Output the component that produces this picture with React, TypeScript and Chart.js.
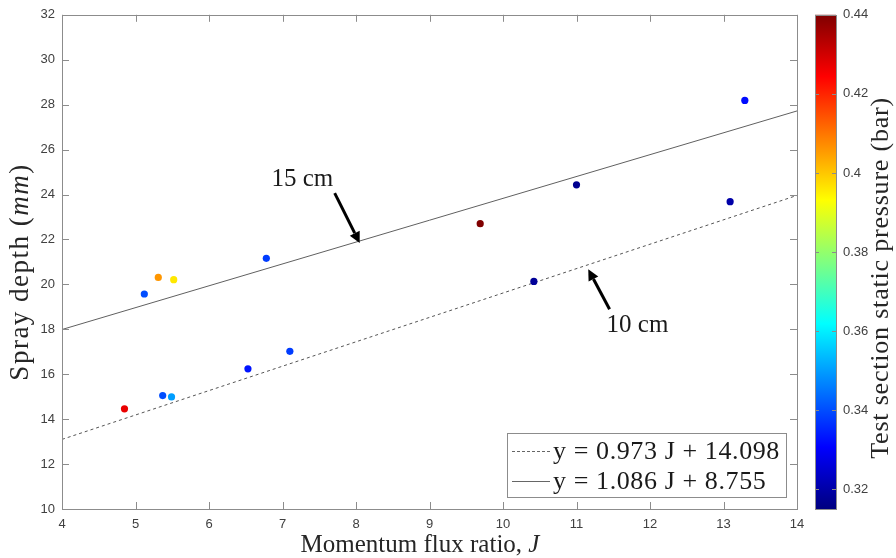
import React, { useEffect, useRef } from "react";
import { Chart, registerables } from "chart.js";
Chart.register(...registerables);

// ---------- data ----------
const momentumJ = [4.85, 5.37, 5.49, 6.53, 7.1, 5.12, 5.31, 5.52, 6.78, 9.69, 10.42, 11.0, 13.09, 13.29];
const sprayDepth = [14.46, 15.05, 14.99, 16.24, 17.02, 19.57, 20.31, 20.21, 21.16, 22.7, 20.13, 24.43, 23.68, 28.19];
const staticPressure = [0.427, 0.34, 0.35, 0.333, 0.338, 0.34, 0.406, 0.396, 0.338, 0.44, 0.318, 0.317, 0.32, 0.332];

const fitSlopes = [0.973, 1.086];
const fitIntercepts = [14.098, 8.755];
const fitLabels = ["15 cm", "10 cm"];

const xTicks = [4, 5, 6, 7, 8, 9, 10, 11, 12, 13, 14];
const yTicks = [10, 12, 14, 16, 18, 20, 22, 24, 26, 28, 30, 32];
const cbTickValues = [0.32, 0.34, 0.36, 0.38, 0.4, 0.42, 0.44];
const cbTickLabels = ["0.32", "0.34", "0.36", "0.38", "0.4", "0.42", "0.44"];
const cbMin = 0.315;
const cbMax = 0.44;

const X_MIN = 4, X_MAX = 14, Y_MIN = 10, Y_MAX = 32;

const SANS = "'Liberation Sans', Arial, sans-serif";
const SERIF = "'Liberation Serif', 'Times New Roman', serif";
const AXIS_GRAY = "#8c8c8c";
const TICK_TEXT = "#404040";
const TITLE_TEXT = "#262626";

function clamp01(v: number) { return Math.max(0, Math.min(1, v)); }
function jet(t: number): string {
  const r = clamp01(1.5 - Math.abs(4 * t - 3));
  const g = clamp01(1.5 - Math.abs(4 * t - 2));
  const b = clamp01(1.5 - Math.abs(4 * t - 1));
  return `rgb(${Math.round(r * 255)},${Math.round(g * 255)},${Math.round(b * 255)})`;
}
function pressureColor(p: number) { return jet((p - cbMin) / (cbMax - cbMin)); }

function drawArrow(ctx: CanvasRenderingContext2D, x1: number, y1: number, x2: number, y2: number) {
  const ang = Math.atan2(y2 - y1, x2 - x1);
  const head = 11, hw = 5.5;
  const bx = x2 - head * Math.cos(ang), by = y2 - head * Math.sin(ang);
  ctx.save();
  ctx.strokeStyle = "#000"; ctx.fillStyle = "#000"; ctx.lineWidth = 3;
  ctx.beginPath(); ctx.moveTo(x1, y1); ctx.lineTo(bx, by); ctx.stroke();
  ctx.beginPath();
  ctx.moveTo(x2, y2);
  ctx.lineTo(bx + hw * Math.sin(ang), by - hw * Math.cos(ang));
  ctx.lineTo(bx - hw * Math.sin(ang), by + hw * Math.cos(ang));
  ctx.closePath(); ctx.fill();
  ctx.restore();
}

function drawSegments(ctx: CanvasRenderingContext2D, segs: { t: string; it: boolean }[], size: number, cx: number, cy: number, spacing = 0) {
  (ctx as any).letterSpacing = `${spacing}px`;
  let total = 0;
  const widths = segs.map((s) => {
    ctx.font = `${s.it ? "italic " : ""}${size}px ${SERIF}`;
    const w = ctx.measureText(s.t).width; total += w; return w;
  });
  let x = cx - total / 2;
  segs.forEach((s, i) => {
    ctx.font = `${s.it ? "italic " : ""}${size}px ${SERIF}`;
    ctx.fillText(s.t, x, cy); x += widths[i];
  });
  (ctx as any).letterSpacing = "0px";
}

const overlayPlugin = {
  id: "overlay",
  afterDraw(chart: any) {
    const ctx: CanvasRenderingContext2D = chart.ctx;
    const ca = chart.chartArea;
    const xs = chart.scales.x, ys = chart.scales.y;
    ctx.save();
    // frame
    ctx.strokeStyle = AXIS_GRAY; ctx.lineWidth = 1;
    ctx.strokeRect(Math.round(ca.left) + 0.5, Math.round(ca.top) + 0.5, Math.round(ca.right - ca.left), Math.round(ca.bottom - ca.top));
    // inner ticks
    const tl = 7;
    ctx.beginPath();
    xTicks.forEach((v) => {
      const px = Math.round(xs.getPixelForValue(v)) + 0.5;
      ctx.moveTo(px, ca.bottom); ctx.lineTo(px, ca.bottom - tl);
      ctx.moveTo(px, ca.top); ctx.lineTo(px, ca.top + tl);
    });
    yTicks.forEach((v) => {
      const py = Math.round(ys.getPixelForValue(v)) + 0.5;
      ctx.moveTo(ca.left, py); ctx.lineTo(ca.left + tl, py);
      ctx.moveTo(ca.right, py); ctx.lineTo(ca.right - tl, py);
    });
    ctx.stroke();

    // axis titles
    ctx.fillStyle = TITLE_TEXT; ctx.textBaseline = "middle"; ctx.textAlign = "left";
    drawSegments(ctx, [{ t: "Momentum flux ratio, ", it: false }, { t: "J", it: true }], 25, 420, 545);
    ctx.save();
    ctx.translate(21, (ca.top + ca.bottom) / 2 + 10); ctx.rotate(-Math.PI / 2);
    drawSegments(ctx, [{ t: "Spray depth (", it: false }, { t: "mm", it: true }, { t: ")", it: false }], 27, 0, 0, 1.5);
    ctx.restore();

    // annotations
    ctx.fillStyle = "#1a1a1a";
    ctx.font = `25px ${SERIF}`; ctx.textAlign = "center";
    ctx.fillText(fitLabels[0], xs.getPixelForValue(7.27), ys.getPixelForValue(24.67));
    ctx.fillText(fitLabels[1], xs.getPixelForValue(11.83), ys.getPixelForValue(18.18));
    drawArrow(ctx, xs.getPixelForValue(7.71), ys.getPixelForValue(24.06), xs.getPixelForValue(8.05), ys.getPixelForValue(21.84));
    drawArrow(ctx, xs.getPixelForValue(11.45), ys.getPixelForValue(18.89), xs.getPixelForValue(11.16), ys.getPixelForValue(20.67));

    // legend box
    const lr = ca.right - 11, lb = ca.bottom - 12, lw = 279, lh = 64;
    const ll = lr - lw, lt = lb - lh;
    ctx.fillStyle = "#fff"; ctx.fillRect(ll, lt, lw, lh);
    ctx.strokeStyle = AXIS_GRAY; ctx.lineWidth = 1;
    ctx.strokeRect(Math.round(ll) + 0.5, Math.round(lt) + 0.5, lw, lh);
    const rows = [lt + 18, lt + 48];
    const dashes = [[3, 2], []];
    rows.forEach((ry, i) => {
      ctx.save();
      ctx.strokeStyle = "#666"; ctx.lineWidth = 1; ctx.setLineDash(dashes[i]);
      ctx.beginPath(); ctx.moveTo(ll + 5, Math.round(ry) + 0.5); ctx.lineTo(ll + 43, Math.round(ry) + 0.5); ctx.stroke();
      ctx.restore();
      ctx.fillStyle = "#1a1a1a"; ctx.textAlign = "left"; ctx.textBaseline = "middle";
      ctx.font = `26px ${SERIF}`;
      (ctx as any).letterSpacing = "0.6px";
      ctx.fillText(`y = ${fitSlopes[i].toFixed(3)} J + ${fitIntercepts[i].toFixed(3)}`, ll + 46, ry + 1);
      (ctx as any).letterSpacing = "0px";
    });

    // colorbar
    const cbL = 815, cbR = 836, cbT = ca.top, cbB = ca.bottom;
    const grad = ctx.createLinearGradient(0, cbB, 0, cbT);
    for (let i = 0; i <= 64; i++) grad.addColorStop(i / 64, jet(i / 64));
    ctx.fillStyle = grad; ctx.fillRect(cbL, cbT, cbR - cbL, cbB - cbT);
    ctx.strokeStyle = AXIS_GRAY; ctx.strokeRect(cbL + 0.5, Math.round(cbT) + 0.5, cbR - cbL, Math.round(cbB - cbT));
    ctx.fillStyle = TICK_TEXT; ctx.font = `13px ${SANS}`; ctx.textAlign = "left"; ctx.textBaseline = "middle";
    cbTickValues.forEach((v, i) => {
      const py = cbB - ((v - cbMin) / (cbMax - cbMin)) * (cbB - cbT);
      ctx.beginPath(); ctx.moveTo(cbR, Math.round(py) + 0.5); ctx.lineTo(cbR - 4, Math.round(py) + 0.5);
      ctx.moveTo(cbL, Math.round(py) + 0.5); ctx.lineTo(cbL + 4, Math.round(py) + 0.5); ctx.stroke();
      ctx.fillText(cbTickLabels[i], 843, py);
    });
    ctx.save();
    ctx.fillStyle = TITLE_TEXT;
    ctx.translate(881, (cbT + cbB) / 2 + 16); ctx.rotate(-Math.PI / 2);
    ctx.font = `26px ${SERIF}`; ctx.textAlign = "center"; ctx.textBaseline = "middle";
    (ctx as any).letterSpacing = "0.8px";
    ctx.fillText("Test section static pressure (bar)", 0, 0);
    (ctx as any).letterSpacing = "0px";
    ctx.restore();
    ctx.restore();
  },
};

export default function App() {
  const ref = useRef<HTMLCanvasElement>(null);
  useEffect(() => {
    document.body.style.margin = "0";
    const points = momentumJ.map((x, i) => ({ x, y: sprayDepth[i] }));
    const colors = staticPressure.map(pressureColor);
    const fitLine = (i: number) => [X_MIN, X_MAX].map((x) => ({ x, y: fitSlopes[i] * x + fitIntercepts[i] }));
    const chart = new Chart(ref.current!, {
      type: "scatter",
      data: {
        datasets: [
          { label: "points", data: points, backgroundColor: colors, pointBackgroundColor: colors, pointBorderWidth: 0, borderWidth: 0, pointRadius: 3.6, order: 0 } as any,
          { type: "line", label: "fit 15", data: fitLine(0), borderColor: "#606060", borderWidth: 1, pointRadius: 0, fill: false, order: 1 } as any,
          { type: "line", label: "fit 10", data: fitLine(1), borderColor: "#555", borderWidth: 1, borderDash: [3, 3], pointRadius: 0, fill: false, order: 1 } as any,
        ],
      },
      options: {
        responsive: false,
        animation: false,
        layout: { padding: { top: 13, right: 99, left: 0, bottom: 0 } },
        plugins: { legend: { display: false }, tooltip: { enabled: false } },
        scales: {
          x: {
            type: "linear", min: X_MIN, max: X_MAX,
            grid: { display: false, drawTicks: false },
            border: { display: false },
            ticks: { stepSize: 1, color: TICK_TEXT, font: { family: SANS, size: 13 }, padding: 8 },
            afterFit: (s: any) => { s.height = 49; },
          },
          y: {
            type: "linear", min: Y_MIN, max: Y_MAX,
            grid: { display: false, drawTicks: false },
            border: { display: false },
            ticks: { stepSize: 2, color: TICK_TEXT, font: { family: SANS, size: 13 }, padding: 7 },
            afterFit: (s: any) => { s.width = 62; },
          },
        },
      } as any,
      plugins: [overlayPlugin],
    });
    return () => chart.destroy();
  }, []);
  return (
    <div style={{ width: 896, height: 558, background: "#fff" }}>
      <canvas ref={ref} width={896} height={558} style={{ display: "block" }} />
    </div>
  );
}
